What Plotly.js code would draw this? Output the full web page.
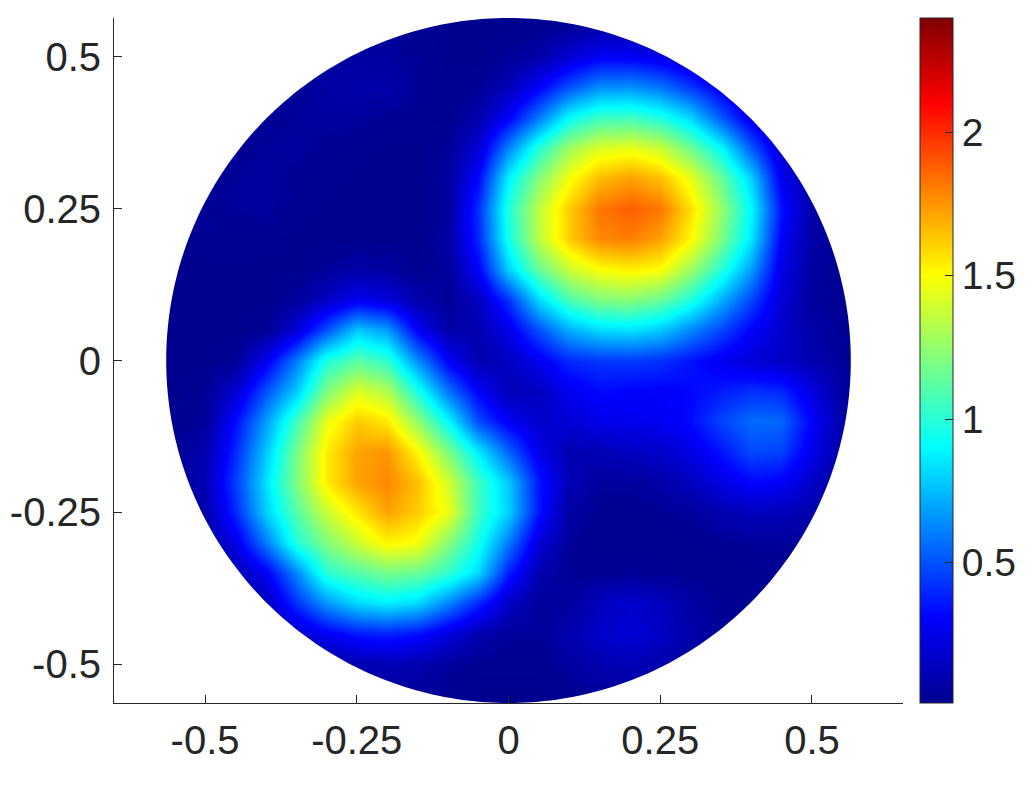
<!DOCTYPE html>
<html>
<head>
<meta charset="utf-8">
<script src="https://cdn.plot.ly/plotly-3.0.1.min.js"></script>
<style>html,body{margin:0;padding:0;background:#fff}#chart{width:1031px;height:792px}</style>
</head>
<body>
<div id="chart"></div>
<script>
const xValues = [-0.60,-0.55,-0.50,-0.45,-0.40,-0.35,-0.30,-0.25,-0.20,-0.15,-0.10,-0.05,0,0.05,0.10,0.15,0.20,0.25,0.30,0.35,0.40,0.45,0.50,0.55,0.60];
const yValues = [0.60,0.55,0.50,0.45,0.40,0.35,0.30,0.25,0.20,0.15,0.10,0.05,0,-0.05,-0.10,-0.15,-0.20,-0.25,-0.30,-0.35,-0.40,-0.45,-0.50,-0.55,-0.60];
// values, in hundredths
const zHundredths = [
[1,1,1,1,1,1,2,3,3,2,1,1,1,1,2,3,3,3,2,1,1,1,1,1,1],
[1,1,1,1,1,2,3,4,4,2,1,1,1,2,5,8,8,6,4,2,1,1,1,1,1],
[1,1,1,1,2,3,5,6,5,3,1,1,4,8,20,29,29,25,16,8,3,2,1,1,1],
[1,1,1,2,3,4,7,9,8,4,2,3,12,30,50,64,65,58,44,27,10,4,2,1,1],
[1,1,2,3,3,4,5,5,3,2,1,9,30,60,92,105,106,98,82,52,25,8,3,1,1],
[1,1,2,3,4,5,3,2,1,1,4,20,62,100,128,142,145,138,117,90,52,18,5,2,1],
[1,1,2,4,5,3,2,1,1,1,6,32,88,122,148,166,172,165,145,115,80,27,7,2,1],
[1,2,3,4,5,2,1,1,1,1,5,42,98,136,162,182,188,182,158,126,90,35,8,3,1],
[1,1,2,2,2,1,1,1,1,1,7,40,95,135,162,178,180,172,152,120,85,30,7,3,1],
[1,1,1,1,1,1,4,8,6,2,5,30,80,115,138,150,154,150,128,100,68,24,6,2,1],
[1,1,1,1,1,5,15,27,22,9,3,15,42,82,108,120,122,115,98,72,47,20,5,2,1],
[1,1,1,1,3,20,50,78,68,30,8,10,25,50,72,82,84,78,63,47,30,18,8,3,1],
[1,1,1,3,27,60,98,112,102,65,30,10,14,27,40,43,44,42,35,27,20,16,10,4,2],
[1,1,3,18,50,78,120,142,132,97,58,30,12,14,27,33,31,30,32,37,42,40,22,6,3],
[2,2,4,33,68,105,145,162,155,125,90,48,28,17,20,25,27,28,33,47,56,55,30,8,4],
[3,4,10,40,78,118,154,172,175,152,120,87,55,25,10,12,15,17,24,35,48,46,25,7,3],
[3,4,12,45,84,120,154,172,178,165,140,105,78,36,12,5,5,8,14,24,32,30,16,5,2],
[2,3,9,40,80,110,138,156,172,162,146,105,80,35,7,2,2,3,5,10,14,13,9,4,2],
[1,2,5,24,60,98,120,138,152,148,122,95,60,20,4,2,2,2,2,3,4,4,4,2,1],
[1,1,2,10,28,62,100,110,118,115,102,82,38,10,3,3,4,3,2,2,2,2,2,1,1],
[1,1,1,3,14,42,66,82,87,82,62,40,16,4,5,14,18,14,7,3,2,1,1,1,1],
[1,1,1,1,4,16,28,36,38,34,22,10,4,4,10,17,20,16,8,3,1,1,1,1,1],
[1,1,1,1,1,3,5,10,12,10,5,2,2,2,5,10,12,9,5,2,1,1,1,1,1],
[1,1,1,1,1,1,2,3,4,3,2,1,1,1,2,4,5,4,2,1,1,1,1,1,1],
[1,1,1,1,1,1,1,1,1,1,1,1,1,1,1,1,1,1,1,1,1,1,1,1,1]
];
const axisTickVals = [-0.5,-0.25,0,0.25,0.5];
const axisTickText = ['-0.5','-0.25','0','0.25','0.5'];
const barTickVals = [0.5,1,1.5,2];
const barTickText = ['0.5','1','1.5','2'];
const discRadius = 0.564;
const zMin = 0.012, zMax = 2.397;
const ink = '#262626';
const jet = [[0,'#00008f'],[0.125,'#0000ff'],[0.375,'#00ffff'],[0.625,'#ffff00'],[0.875,'#ff0000'],[1,'#800000']];

// white surround that leaves only the disc visible (keyhole polygon)
const maskX = [-0.7,0.7,0.7,-0.7,-0.7,-discRadius], maskY = [-0.7,-0.7,0.7,0.7,0,0];
for (let i = 0; i <= 360; i++) {
  const t = Math.PI - i * Math.PI / 180;
  maskX.push(discRadius * Math.cos(t));
  maskY.push(discRadius * Math.sin(t));
}
maskX.push(-0.7); maskY.push(0);

const heat = {
  type: 'heatmap', x: xValues, y: yValues,
  z: zHundredths.map(r => r.map(v => v / 100)),
  zmin: zMin, zmax: zMax, zsmooth: 'best', colorscale: jet, hoverinfo: 'skip',
  colorbar: {
    xref: 'container', x: 920 / 1031, xanchor: 'left', xpad: 0, y: 0.5, yanchor: 'middle', ypad: 0,
    len: 1, thickness: 33, outlinewidth: 1, outlinecolor: ink,
    ticks: 'inside', ticklen: 8, tickwidth: 1, tickcolor: ink,
    tickmode: 'array', tickvals: barTickVals, ticktext: barTickText,
    tickfont: {family: '"Liberation Sans", Arial, sans-serif', size: 39, color: ink}
  }
};
const mask = {
  type: 'scatter', mode: 'none', x: maskX, y: maskY, fill: 'toself',
  fillcolor: '#ffffff', hoverinfo: 'skip', showlegend: false
};
const axisBase = {
  showgrid: false, zeroline: false, showline: true, linecolor: ink, linewidth: 1,
  ticks: 'inside', ticklen: 8, tickwidth: 1, tickcolor: ink,
  tickmode: 'array', tickvals: axisTickVals, ticktext: axisTickText,
  tickfont: {family: '"Liberation Sans", Arial, sans-serif', size: 40, color: ink}
};
const layout = {
  width: 1031, height: 792, paper_bgcolor: '#fff', plot_bgcolor: '#fff',
  margin: {l: 114, r: 128, t: 18, b: 89}, showlegend: false,
  xaxis: Object.assign({}, axisBase, {range: [-0.65, 0.65], ticklabelstandoff: 2}),
  yaxis: Object.assign({}, axisBase, {range: [-discRadius, discRadius], ticklabelstandoff: 4})
};
Plotly.newPlot('chart', [heat, mask], layout, {displayModeBar: false, staticPlot: true});
</script>
</body>
</html>
